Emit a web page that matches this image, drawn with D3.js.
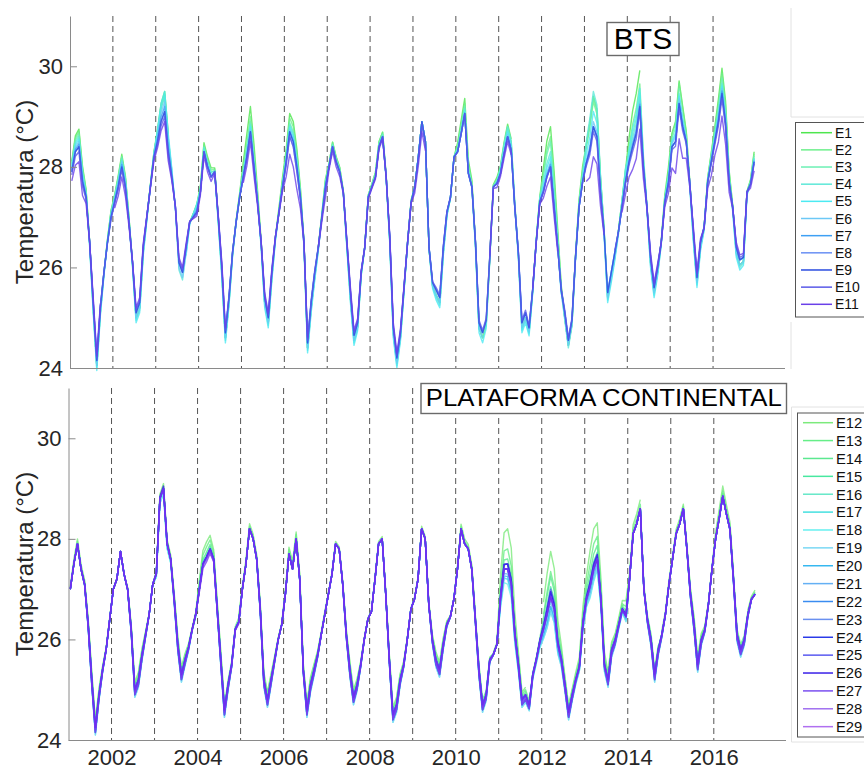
<!DOCTYPE html>
<html><head><meta charset="utf-8">
<script src="https://cdn.jsdelivr.net/npm/d3@7"></script>
<style>html,body{margin:0;padding:0;background:#fff;} svg{display:block;font-family:"Liberation Sans",Arial,Helvetica,sans-serif;}</style>
</head><body><svg id="c" width="864" height="769"></svg>
<script>
// ---------------- DATA ----------------
const yTicks = [24, 26, 28, 30];
const xTickYears = [2002, 2004, 2006, 2008, 2010, 2012, 2014, 2016];
const yearLines = [2002, 2003, 2004, 2005, 2006, 2007, 2008, 2009, 2010, 2011, 2012, 2013, 2014, 2015, 2016];
const startYear = 2001;

// BTS (monthly, Jan 2001 - Dec 2016), representative curve
const btsBase = [
 27.9,28.3,28.4,27.7,27.4,26.5,25.3,24.15,25.2,25.9,26.5,27.0,
 27.3,27.6,28.0,27.6,26.9,26.1,25.1,25.3,26.4,27.0,27.6,28.2,
 28.5,28.9,29.1,28.3,27.8,27.2,26.1,25.9,26.4,26.9,27.0,27.1,
 27.5,28.3,28.0,27.8,27.9,27.0,26.0,24.7,25.4,26.3,26.9,27.4,
 27.8,28.2,28.7,28.0,27.3,26.5,25.4,25.0,25.9,26.6,27.1,27.6,
 28.1,28.7,28.5,28.0,27.4,26.5,24.5,25.3,25.9,26.4,27.0,27.6,
 28.0,28.4,28.1,27.9,27.5,26.5,25.5,24.65,24.9,25.9,26.4,27.4,
 27.6,27.8,28.4,28.6,27.8,26.6,24.8,24.2,24.7,25.6,26.5,27.3,
 27.6,28.2,28.9,28.5,26.4,25.7,25.55,25.4,26.4,27.1,27.4,28.2,
 28.3,28.66,29.06,27.87,27.6,26.5,24.9,24.7,24.95,26.2,27.6,27.67,
 27.87,28.26,28.6,28.33,27.2,26.3,24.9,25.1,24.8,25.55,26.5,27.3,
 27.5,27.8,28.0,27.2,26.4,25.55,25.1,24.55,24.95,26.2,27.2,27.7,
 28.07,28.33,28.8,28.6,27.5,26.7,25.5,25.9,26.3,26.7,27.2,27.7,
 28.1,28.4,28.66,29.2,28.0,27.2,26.2,25.6,26.0,26.5,27.3,27.67,
 28.4,28.5,29.26,28.8,28.5,27.67,26.7,25.8,26.5,26.8,27.7,28.1,
 28.5,28.9,29.46,28.86,27.7,27.2,26.4,26.15,26.2,27.5,27.66,28.1
];
// Plataforma Continental representative curve
const platBase = [
 27.0,27.5,27.9,27.4,27.1,26.3,25.2,24.25,24.9,25.4,25.8,26.4,
 27.0,27.2,27.75,27.3,27.0,26.2,25.0,25.2,25.7,26.1,26.5,27.1,
 27.3,28.8,29.0,27.9,27.6,26.8,25.9,25.3,25.6,25.85,26.2,26.5,
 27.0,27.5,27.64,27.8,27.6,26.6,25.6,24.6,25.1,25.5,26.2,26.35,
 27.0,27.5,28.2,28.0,27.6,26.6,25.2,24.8,25.2,25.6,26.0,26.3,
 26.9,27.7,27.4,28.0,27.2,25.4,24.6,25.1,25.4,25.7,26.1,26.5,
 26.9,27.3,27.9,27.8,27.1,26.1,25.4,24.85,25.1,25.5,26.0,26.4,
 26.55,27.2,27.9,28.0,26.9,25.6,24.5,24.7,25.2,25.5,26.0,26.6,
 26.8,27.2,28.2,28.0,26.7,26.0,25.6,25.4,25.9,26.3,26.45,26.8,
 27.4,28.2,27.9,27.8,27.4,26.4,25.4,24.7,24.9,25.6,25.7,25.9,
 26.8,27.4,27.4,27.1,26.1,25.5,24.8,24.9,24.7,25.3,25.6,25.95,
 26.2,26.5,26.85,26.6,25.9,25.6,25.1,24.55,24.9,25.2,25.45,26.3,
 26.8,27.05,27.4,27.6,26.8,25.5,25.2,25.8,26.0,26.3,26.6,26.45,
 27.2,28.1,28.3,28.6,27.0,26.4,26.0,25.3,25.8,26.1,26.5,27.1,
 27.6,28.1,28.3,28.6,27.8,26.9,26.3,25.5,26.0,26.2,26.7,27.4,
 28.0,28.4,28.85,28.5,28.2,27.2,26.1,25.8,26.0,26.5,26.8,26.9
];

// seasonal weights for station departures (Jan..Dec)
const warmWeight = [0.6,0.9,1,0.9,0.5,0.2,0,0,0,0.1,0.2,0.4];
const coolWeight = [0,0,0,0,0.2,0.6,1,1,0.8,0.4,0.1,0];

const btsStations = ["E1","E2","E3","E4","E5","E6","E7","E8","E9","E10","E11"];
const btsColors = ["#4ee64e","#6ef08c","#6cf0b4","#5ee8d8","#4ceaf2","#6cc8f6","#3ea0f4","#6a90f4","#2a4ce0","#5a5ae8","#6a40e8"];
// warm-season departure (°C) per station per year 2001..2016
const btsPeakDev = [
 [0.35,0.25,0.4,0.2,0.5,0.4,0.1,0.1,0.0,0.3,0.25,0.8,0.6,0.8,0.45,0.5],
 [0.3,0.2,0.35,0.15,0.3,0.3,0.1,0.1,0,0.2,0.2,0.6,0.5,0.5,0.4,0.4],
 [0.25,0.2,0.3,0.1,0.2,0.2,0.05,0.05,0,0.15,0.15,0.5,0.6,0.3,0.3,0.3],
 [0.2,0.15,0.3,0.1,0.15,0.15,0.05,0.05,0,0.1,0.2,0.3,0.7,0.2,0.2,0.2],
 [0.15,0.1,0.4,0.05,0.1,0.1,0,0,0,0.05,0.1,0.2,0.3,0.4,0.15,0.15],
 [0.1,0.1,0.2,0,0.05,0.05,0,0,0,0,0.05,0.1,0.1,0.1,0.1,0.1],
 [0.05,0.05,0.1,0,0,0,0,0,0,0,0,0.05,0,0.05,0,0.05],
 [0,0,0,0,0,-0.1,0,0,0,0,0,0,0,0,0,0],
 [0,0,0,0,0,0,0,0,0,0,0,0,0,0,0,0],
 [-0.1,-0.05,-0.1,0,-0.05,-0.1,0,0,-0.05,0,0,0,-0.1,-0.1,-0.1,-0.1],
 [-0.3,-0.2,-0.2,-0.1,-0.2,-0.5,-0.1,-0.05,-0.2,-0.2,-0.1,-0.2,-0.6,-0.5,-0.7,-0.45]
];
const btsCoolDev = [-0.1,-0.1,-0.1,-0.15,-0.2,-0.1,0,0,0,0.05,0.1];
const btsGaps = [
 [[28,32],[90,91],[124,126],[160,162]],
 [[28,32],[150,152]],
 [[29,31],[171,173]],
 [[115,117]],
 [[30,31],[138,140]],
 [[116,118]],
 [[116,117],[148,149]],
 [],
 [],
 [[150,151]],
 [[9,11],[44,47],[67,68],[100,116],[124,128],[137,143],[150,153]]
];

const platStations = ["E12","E13","E14","E15","E16","E17","E18","E19","E20","E21","E22","E23","E24","E25","E26","E27","E28","E29"];
const platColors = ["#7cea7c","#66ee88","#5ce890","#48e8a0","#66e8c8","#44e0e0","#66f0f0","#7ad8f4","#36b8f0","#64b0f4","#3a8cf0","#6a90f0","#2a3ae8","#5a5af0","#3a20e8","#7a50f0","#a070f0","#b070f0"];
const platPeakDev = [
 [0.1,0,0.1,0.3,0.1,0.15,0.05,0.05,0.05,0.1,0.8,0.9,0.8,0.2,0.1,0.2],
 [0.05,0,0.05,0.2,0.05,0.1,0,0,0,0.05,0.4,0.5,0.5,0.1,0.05,0.1],
 [0,0,0,0.1,0,0,0,0,0,0,0.2,0.4,0.3,0,0,0.05],
 [0,0,0,0.05,0,0,0,0,0,0,0.1,0.2,0.15,0,0,0],
 [0,0,-0.05,0,0,0,0,0,0,0,0,0.1,0.1,0,0,0],
 [0,0,-0.1,0,0,0,0,0,0,0,-0.2,-0.2,-0.2,0,0,0],
 [0,0,-0.1,0,0,0,0,0,0,0,-0.3,-0.3,-0.25,0,0,0],
 [0,0,-0.05,0,0,0,0,0,0,0,-0.2,-0.3,-0.2,0,0,0],
 [0,0,0,0,0,0,0,0,0,0,-0.15,-0.2,-0.1,0,0,0],
 [0,0,0,0,0,0,0,0,0,0,-0.1,-0.1,-0.1,0,0,0],
 [0,0,0,0,0,0,0,0,0,0,0,0,0,0,0,0],
 [0,0,0,0,0,0,0,0,0,0,0,0.05,0,0,0,0],
 [0,0,0,0,0,0,0,0,0,0,0.1,0.1,0.05,0,0,0],
 [0,0,0,0,0,0,0,0,0,0,0.1,0.15,0.1,0,0,0],
 [0,0,0.05,0,0,0,0,0,0,0,0.1,0.1,0.1,0,0,0],
 [0,0,0,-0.05,0,0,0,0,0,0,0,0,0,0,0,0],
 [0,0,0,-0.1,0,0,0,0,0,0,0,0,0,0,0,0],
 [0,0,0,0,0,0,0,0,0,0,0,0,0,0,0,0]
];
const platCoolDev = [0.15,0.1,0.05,0,0,-0.1,-0.15,-0.15,-0.1,-0.05,0,0,0,0,-0.1,-0.1,-0.05,0];
const platGaps = [
 [[44,46],[114,117],[128,131],[160,164],[186,188]],
 [[129,131],[165,166]],
 [[46,47]],
 [],[],[],[],[],[],[],[],[],[],[],[],[],[],[]
];

// ---------------- DRAWING ----------------
const svg = d3.select("#c");

function seriesFor(base, peakDev, coolDev, gaps, s) {
  return base.map((b, m) => {
    const gap = gaps[s].some(g => m >= g[0] && m <= g[1]);
    const yr = Math.floor(m / 12), mo = m % 12;
    return {
      t: startYear + (m + 0.5) / 12,
      v: gap ? null : b + peakDev[s][yr] * warmWeight[mo] + coolDev[s] * coolWeight[mo]
    };
  });
}

function panel(cfg) {
  const x = d3.scaleLinear().domain([2001, 2017 + 8 / 12]).range([cfg.left, cfg.right]);
  const y = d3.scaleLinear().domain([24, 31]).range([cfg.bottom, cfg.top]);
  const g = svg.append("g");

  // dashed year lines
  g.selectAll("line.yr").data(yearLines).join("line")
    .attr("x1", d => x(d)).attr("x2", d => x(d))
    .attr("y1", cfg.top).attr("y2", cfg.bottom)
    .attr("stroke", "#555").attr("stroke-width", 1).attr("stroke-dasharray", "6,4");

  // station lines
  const line = d3.line().defined(d => d.v !== null).x(d => x(d.t)).y(d => y(d.v));
  cfg.stations.forEach((name, s) => {
    const data = seriesFor(cfg.base, cfg.peakDev, cfg.coolDev, cfg.gaps, s);
    g.append("path").datum(data)
      .attr("d", line).attr("fill", "none")
      .attr("stroke", cfg.lineColors[s]).attr("stroke-width", 1.4)
      .attr("stroke-opacity", 0.8).attr("stroke-linejoin", "round");
  });

  // axes
  const ya = g.append("g").attr("transform", `translate(${cfg.left},0)`)
    .call(d3.axisLeft(y).tickValues(yTicks).tickSize(-7).tickSizeOuter(0).tickPadding(7).tickFormat(d3.format("d")));
  ya.select(".domain").attr("stroke", "#8a8a8a");
  ya.selectAll(".tick line").attr("stroke", "#8a8a8a");
  ya.selectAll("text").attr("font-size", 22).attr("fill", "#262626")
    .attr("font-family", '"Liberation Sans",Arial,sans-serif');

  const xa = g.append("g").attr("transform", `translate(0,${cfg.bottom})`)
    .call(d3.axisBottom(x).tickValues(cfg.showX ? xTickYears : []).tickSize(0).tickSizeOuter(0).tickPadding(9).tickFormat(d3.format("d")));
  xa.select(".domain").attr("stroke", "#8a8a8a");
  xa.selectAll("text").attr("font-size", 22).attr("fill", "#262626")
    .attr("font-family", '"Liberation Sans",Arial,sans-serif');

  // y label
  svg.append("text")
    .attr("transform", `translate(33,${(cfg.top + cfg.bottom) / 2}) rotate(-90)`)
    .attr("text-anchor", "middle").attr("font-size", 24).attr("fill", "#262626")
    .text("Temperatura (°C)");

  // title box
  svg.append("rect").attr("x", cfg.titleBox[0]).attr("y", cfg.titleBox[1])
    .attr("width", cfg.titleBox[2]).attr("height", cfg.titleBox[3])
    .attr("fill", "#fff").attr("stroke", "#6a6a6a").attr("stroke-width", 1.4);
  const tt = svg.append("text")
    .attr("x", cfg.titleBox[0] + cfg.titleBox[2] / 2).attr("y", cfg.titleBase)
    .attr("text-anchor", "middle").attr("font-size", cfg.titleSize).attr("fill", "#000")
    .text(cfg.title);
  if (cfg.titleLen) tt.attr("textLength", cfg.titleLen).attr("lengthAdjust", "spacingAndGlyphs");

  // legend
  const L = cfg.legend;
  svg.append("rect").attr("x", L.x).attr("y", L.y).attr("width", 90).attr("height", L.h)
    .attr("fill", "#fff").attr("stroke", "#555").attr("stroke-width", 1);
  cfg.stations.forEach((name, s) => {
    const yy = L.y0 + s * L.dy;
    svg.append("line").attr("x1", L.lx1).attr("x2", L.lx2).attr("y1", yy).attr("y2", yy)
      .attr("stroke", cfg.colors[s]).attr("stroke-width", 1.5);
    svg.append("text").attr("x", L.tx).attr("y", yy).attr("dy", "0.36em")
      .attr("font-size", L.fs).attr("fill", "#111").text(name);
  });
}

// faint frame lines
const faint = [
  [791, 8, 791, 117], [791, 117, 864, 117], [791, 322, 791, 369],
  [791.5, 407, 864, 407], [791.5, 407, 791.5, 742], [791.5, 742, 864, 742]
];
svg.selectAll("line.faint").data(faint).join("line").attr("class", "faint")
  .attr("x1", d => d[0]).attr("y1", d => d[1]).attr("x2", d => d[2]).attr("y2", d => d[3])
  .attr("stroke", "#e2e2e2").attr("stroke-width", 1);

// plotted line colours: the last purples render more saturated in the plot
const platLineColors = platColors.slice(0, 16).concat(["#7a3cf0", "#6a2cf0"]);

panel({
  left: 70, right: 784.5, top: 16, bottom: 368, showX: false,
  base: btsBase, peakDev: btsPeakDev, coolDev: btsCoolDev, gaps: btsGaps,
  stations: btsStations, colors: btsColors, lineColors: btsColors,
  title: "BTS", titleBox: [607, 22.5, 72, 33], titleBase: 49, titleSize: 30,
  legend: { x: 795.5, y: 122.5, h: 194.5, y0: 132.7, dy: 17.16, lx1: 801, lx2: 832, tx: 835, fs: 14 }
});
panel({
  left: 68.5, right: 785.5, top: 388, bottom: 740, showX: true,
  base: platBase, peakDev: platPeakDev, coolDev: platCoolDev, gaps: platGaps,
  stations: platStations, colors: platColors, lineColors: platLineColors,
  title: "PLATAFORMA CONTINENTAL", titleBox: [421, 383.5, 365.5, 30], titleBase: 405.5, titleSize: 24, titleLen: 356,
  legend: { x: 797.5, y: 413, h: 324, y0: 422.7, dy: 17.88, lx1: 803, lx2: 833, tx: 836, fs: 14.8 }
});
</script></body></html>
